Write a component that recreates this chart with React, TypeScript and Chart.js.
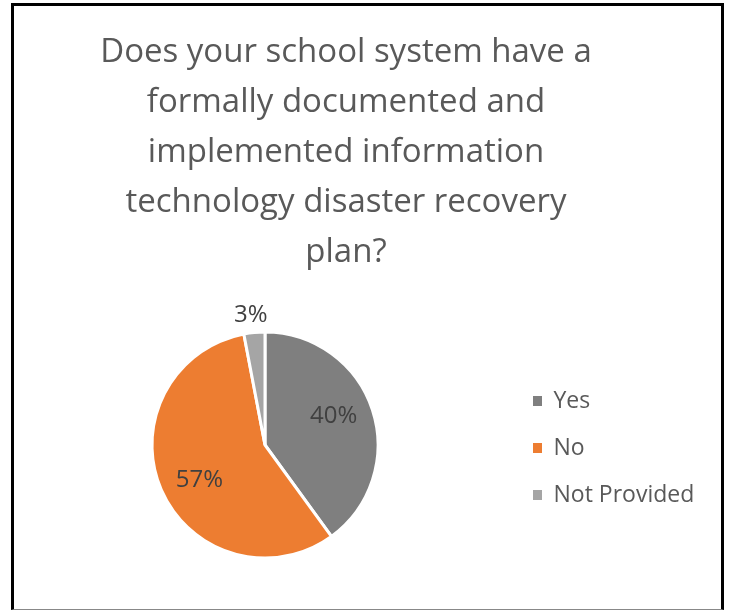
import React, { useEffect, useRef } from "react";
import { Chart, registerables } from "chart.js";

Chart.register(...registerables);

const titleLines = [
  "Does your school system have a",
  "formally documented and",
  "implemented information",
  "technology disaster recovery",
  "plan?",
];
const categories = ["Yes", "No", "Not Provided"];
const percentValues = [40, 57, 3];
const sliceColors = ["#7F7F7F", "#ED7D31", "#A5A5A5"];

const FONT = "'Open Sans', Lato, sans-serif";

const labelPlugin = {
  id: "sliceLabels",
  afterLayout(chart: any) {
    // let legend text run past the narrow legend box without being clipped
    const l = chart.legend;
    if (l) {
      l.right += 60;
      l.width += 60;
      l.top += 3;
      l.bottom += 3;
    }
  },
  afterDatasetsDraw(chart: any) {
    const ctx = chart.ctx;
    const meta = chart.getDatasetMeta(0);
    const data = chart.data.datasets[0].data as number[];
    const total = data.reduce((a, b) => a + b, 0);
    ctx.save();
    ctx.font = `24px ${FONT}`;
    ctx.fillStyle = "#404040";
    ctx.textAlign = "center";
    ctx.textBaseline = "middle";
    meta.data.forEach((arc: any, i: number) => {
      const p = arc.getProps(["x", "y", "startAngle", "endAngle", "outerRadius"], true);
      const pct = (data[i] / total) * 100;
      const outside = pct < 6;
      const mid = (p.startAngle + p.endAngle) / 2 - (outside ? 0 : 0.087);
      const r = outside ? p.outerRadius + 17 : p.outerRadius * 0.66;
      ctx.fillText(`${Math.round(pct)}%`, p.x + Math.cos(mid) * r - (outside ? 2 : 0), p.y + Math.sin(mid) * r);
    });
    ctx.restore();
  },
};

export default function App() {
  const ref = useRef<HTMLCanvasElement | null>(null);
  useEffect(() => {
    if (!ref.current) return;
    const chart = new Chart(ref.current, {
      type: "pie",
      data: {
        labels: categories,
        datasets: [
          {
            data: percentValues,
            backgroundColor: sliceColors,
            borderColor: "#FFFFFF",
            borderWidth: 3,
            radius: 113,
          } as any,
        ],
      },
      options: {
        animation: false,
        responsive: true,
        maintainAspectRatio: false,
        layout: { padding: { top: 10, left: 7, right: 50, bottom: 15 } },
        plugins: {
          title: {
            display: true,
            fullSize: true,
            text: titleLines,
            color: "#595959",
            font: { family: FONT, size: 33, weight: "normal", lineHeight: 50 / 33 },
            padding: { top: 12, bottom: 18 },
          },
          legend: {
            display: true,
            position: "right",
            fullSize: false,
            maxWidth: 162,
            labels: {
              color: "#595959",
              font: { family: FONT, size: 23 },
              boxWidth: 9,
              boxHeight: 10,
              padding: 24,
              generateLabels: (chart: any) => {
                const base = (Chart as any).overrides.pie.plugins.legend.labels.generateLabels(chart);
                return base.map((l: any) => ({ ...l, lineWidth: 0 }));
              },
            },
          },
          tooltip: { enabled: false },
        },
      },
      plugins: [labelPlugin],
    });
    return () => chart.destroy();
  }, []);

  return (
    <div
      style={{
        position: "absolute",
        left: 11,
        top: 3,
        width: 713,
        height: 607,
        boxSizing: "border-box",
        borderTop: "3px solid #000",
        borderLeft: "3px solid #000",
        borderRight: "3px solid #000",
        borderBottom: "1px solid #888",
        background: "#fff",
      }}
    >
      <div style={{ position: "relative", width: 707, height: 603 }}>
        <canvas ref={ref} />
      </div>
    </div>
  );
}
